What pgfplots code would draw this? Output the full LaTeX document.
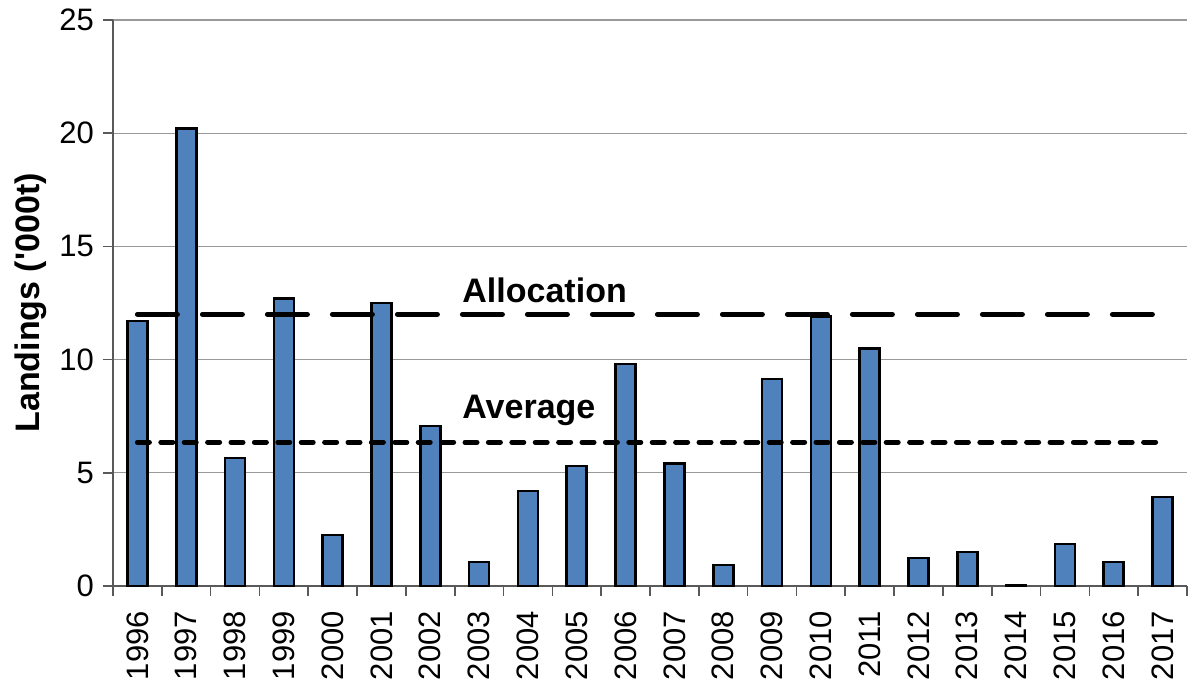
\documentclass[border=0pt]{standalone}
\usepackage{pgfplots}
\pgfplotsset{compat=1.18}
\usepackage{fontspec}
\setmainfont{Liberation Sans}
\definecolor{barblue}{RGB}{79,129,189}

\begin{document}
\begin{tikzpicture}
  \begin{axis}[
      at={(0,0)}, anchor=south west,
      scale only axis,
      width=537pt, height=283pt,
      xmin=-0.5, xmax=21.5,
      ymin=0, ymax=25,
      axis x line*=bottom, axis y line*=left,
      axis line style={gray!70!black, line width=0.8pt},
      ytick={0,5,...,25},
      ymajorgrids,
      grid style={gray!80, line width=0.6pt},
      xtick={0,...,21},
      xticklabels={1996,1997,1998,1999,2000,2001,2002,2003,2004,2005,2006,2007,2008,2009,2010,2011,2012,2013,2014,2015,2016,2017},
      major x tick style={draw=none},
      minor xtick={-0.5,0.5,...,21.5},
      minor tick length=5pt,
      major tick length=5pt,
      tick align=outside,
      tick style={gray!70!black, line width=0.8pt},
      x tick label style={rotate=90, anchor=east, xshift=-4pt},
      y tick label style={xshift=-1pt},
      tick label style={font=\fontsize{15.5}{18}\selectfont},
      /pgf/number format/assume math mode=true,
      ylabel={\bfseries Landings (\textquotesingle 000t)},
      ylabel style={font=\fontsize{17}{20}\selectfont, yshift=-0.5pt},
      clip=false,
    ]
    \addplot[ybar, bar width=10pt, fill=barblue, draw=black, line width=1.3pt]
      coordinates {
        (0,11.7) (1,20.2) (2,5.65) (3,12.7) (4,2.25) (5,12.5)
        (6,7.07) (7,1.06) (8,4.2) (9,5.3) (10,9.8) (11,5.4)
        (12,0.93) (13,9.14) (14,11.9) (15,10.5) (16,1.24) (17,1.5)
        (18,0.05) (19,1.85) (20,1.06) (21,3.93)
      };
    % Allocation
    \addplot[black, line width=2.5pt, line cap=round, dash pattern=on 20pt off 12.5pt]
      coordinates {(0,12) (21,12)};
    % Average
    \addplot[black, line width=2.5pt, line cap=round, dash pattern=on 6pt off 5.7pt]
      coordinates {(0,6.35) (21,6.35)};
    \node[anchor=west, font=\bfseries\fontsize{17}{20}\selectfont, inner sep=0pt]
      at (axis cs:6.65,13.07) {Allocation};
    \node[anchor=west, font=\bfseries\fontsize{17}{20}\selectfont, inner sep=0pt]
      at (axis cs:6.65,7.77) {Average};
  \end{axis}
  \pgfresetboundingbox
  \path[use as bounding box] (-56.5pt,-47pt) rectangle (538.5pt,293pt);
\end{tikzpicture}
\end{document}
